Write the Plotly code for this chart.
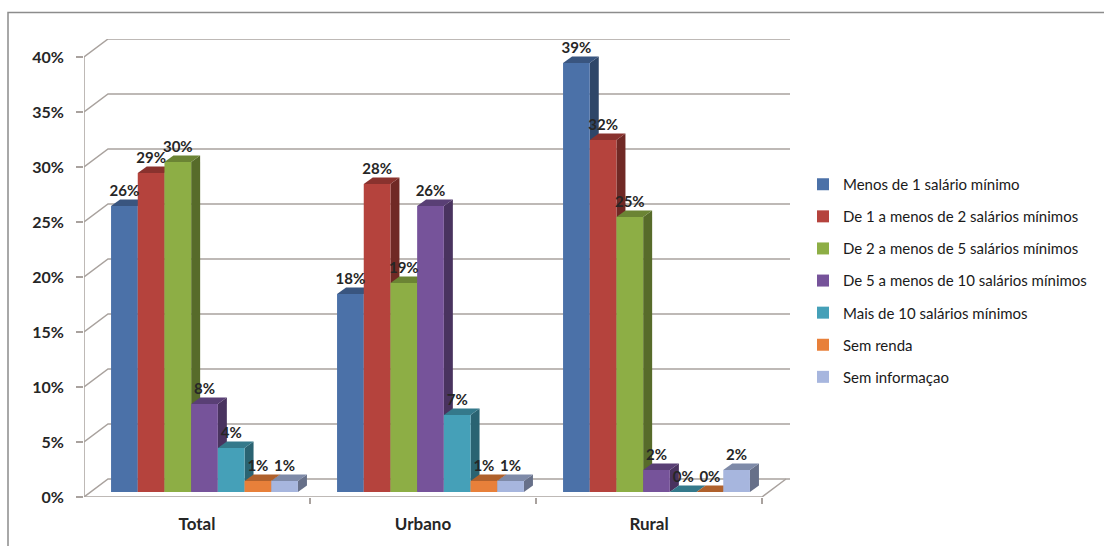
import plotly.graph_objects as go

# ---- data -------------------------------------------------------------
categories = ["Total", "Urbano", "Rural"]
series_names = [
    "Menos de 1 salário mínimo",
    "De 1 a menos de 2 salários mínimos",
    "De 2 a menos de 5 salários mínimos",
    "De 5 a menos de 10 salários mínimos",
    "Mais de 10 salários mínimos",
    "Sem renda",
    "Sem informaçao",
]
menos_1 = [26, 18, 39]
de_1_a_2 = [29, 28, 32]
de_2_a_5 = [30, 19, 25]
de_5_a_10 = [8, 26, 2]
mais_10 = [4, 7, 0]
sem_renda = [1, 1, 0]
sem_info = [1, 1, 2]
series_values = [menos_1, de_1_a_2, de_2_a_5, de_5_a_10, mais_10, sem_renda, sem_info]
y_ticks = [0, 5, 10, 15, 20, 25, 30, 35, 40]
y_tick_labels = ["0%", "5%", "10%", "15%", "20%", "25%", "30%", "35%", "40%"]

# ---- styling ----------------------------------------------------------
front_colors = ["#4B71A8", "#B5433D", "#8DAE45", "#76539A", "#45A0B8", "#E8803A", "#A7B6DE"]


def shade(hex_color, f):
    r, g, b = (int(hex_color[i:i + 2], 16) for i in (1, 3, 5))
    return "#%02x%02x%02x" % (int(r * f), int(g * f), int(b * f))


W, H = 1104, 546
M_L, M_R, M_T, M_B = 84, 314, 39, 49
CAT_PX = 226.0          # pixels per category on the front plane
PCT_PX = 11.0           # pixels per percentage point
PLOT_W = W - M_L - M_R
PLOT_H = H - M_T - M_B
X_MAX = PLOT_W / CAT_PX
Y_MAX = PLOT_H / PCT_PX

# pseudo-3D offsets converted to axis units
WALL_DX, WALL_DY = 24 / CAT_PX, 18 / PCT_PX      # back wall
BAR_SX, BAR_SY = 7.5 / CAT_PX, 5 / PCT_PX       # bar plane shift
DEP_DX, DEP_DY = 9 / CAT_PX, 6.5 / PCT_PX       # bar depth
BAR_W = 26.7 / CAT_PX
n_series = len(series_names)

GRID = "#a9a29e"
FONT = "Lato"

fig = go.Figure()
shapes = []

# back wall gridlines with their diagonal returns to the front axis
for t in y_ticks:
    shapes.append(dict(type="path", xref="x", yref="y", layer="below",
                       path=f"M 0,{t} L {WALL_DX},{t + WALL_DY} L {X_MAX},{t + WALL_DY}",
                       line=dict(color=GRID, width=1.5)))
# front value axis and floor edges
shapes.append(dict(type="line", xref="x", yref="y", layer="below", x0=0, y0=0, x1=0, y1=y_ticks[-1],
                   line=dict(color=GRID, width=1.5)))
n_cat = len(categories)
shapes.append(dict(type="path", xref="x", yref="y", layer="below",
                   path=f"M 0,0 L {n_cat},0 L {n_cat + WALL_DX},{WALL_DY}",
                   line=dict(color=GRID, width=1.5)))

label_x, label_y, label_t = [], [], []
for s, (name, vals) in enumerate(zip(series_names, series_values)):
    xs = [g + 0.5 + (s - (n_series - 1) / 2) * BAR_W + BAR_SX for g in range(n_cat)]
    fig.add_trace(go.Bar(
        x=xs, y=vals, base=BAR_SY, width=BAR_W, name=name,
        legendgroup=name, marker=dict(color=front_colors[s], line=dict(width=0)),
        hovertemplate="%{y}%<extra>" + name + "</extra>",
    ))

# side and top faces, drawn left to right so nearer bars cover their neighbours
for g in range(n_cat):
    for s in range(n_series):
        v = series_values[s][g]
        xc = g + 0.5 + (s - (n_series - 1) / 2) * BAR_W + BAR_SX
        xl, xr = xc - BAR_W / 2, xc + BAR_W / 2
        yb, yt = BAR_SY, BAR_SY + v
        shapes.append(dict(type="path", xref="x", yref="y", layer="between",
                           path=f"M {xr},{yb} L {xr},{yt} L {xr + DEP_DX},{yt + DEP_DY} L {xr + DEP_DX},{yb + DEP_DY} Z",
                           fillcolor=shade(front_colors[s], 0.62), line=dict(width=0)))
        shapes.append(dict(type="path", xref="x", yref="y", layer="between",
                           path=f"M {xl},{yt} L {xr},{yt} L {xr + DEP_DX},{yt + DEP_DY} L {xl + DEP_DX},{yt + DEP_DY} Z",
                           fillcolor=shade(front_colors[s], 0.76), line=dict(width=0)))
        label_x.append(xc)
        label_y.append(yt + DEP_DY)
        label_t.append(f"{v}%")

fig.add_trace(go.Scatter(
    x=label_x, y=label_y, text=label_t, mode="text", textposition="top center",
    textfont=dict(family=FONT, size=15, color="#262626", weight="bold"),
    showlegend=False, hoverinfo="skip",
))

# outer chart frame
fx = (8 - M_L) / PLOT_W
fy = (H - M_B - 12.5) / PLOT_H
shapes.append(dict(type="rect", xref="paper", yref="paper", layer="below",
                   x0=fx, y0=-1, x1=3, y1=fy, line=dict(color="#8c8c8c", width=1.5)))

fig.update_layout(
    width=W, height=H,
    margin=dict(l=M_L, r=M_R, t=M_T, b=M_B, autoexpand=False),
    paper_bgcolor="white", plot_bgcolor="white",
    barmode="overlay", shapes=shapes,
    font=dict(family=FONT, color="#262626"),
    xaxis=dict(range=[0, X_MAX], tickmode="array",
               tickvals=[g + 0.5 for g in range(n_cat)], ticktext=categories,
               ticks="", showgrid=False, zeroline=False, showline=False,
               tickfont=dict(family=FONT, size=17, color="#262626", weight="bold"),
               ticklabelstandoff=15,
               minor=dict(tickmode="array", tickvals=list(range(1, n_cat + 1)),
                          ticks="outside", ticklen=6, tickcolor=GRID, tickwidth=1.5, showgrid=False)),
    yaxis=dict(range=[0, Y_MAX], tickmode="array", tickvals=y_ticks, ticktext=y_tick_labels,
               ticks="outside", ticklen=7, tickcolor=GRID, tickwidth=1.5,
               showgrid=False, zeroline=False, showline=False,
               tickfont=dict(family=FONT, size=16, color="#262626", weight="bold"),
               ticklabelstandoff=9),
    legend=dict(x=(803 - M_L) / PLOT_W, xanchor="left", y=(H - M_B - 168) / PLOT_H, yanchor="top",
                font=dict(family=FONT, size=15, color="#1a1a1a"),
                tracegroupgap=9.6, bgcolor="rgba(0,0,0,0)"),
    showlegend=True,
)

fig.write_html("out.html")
